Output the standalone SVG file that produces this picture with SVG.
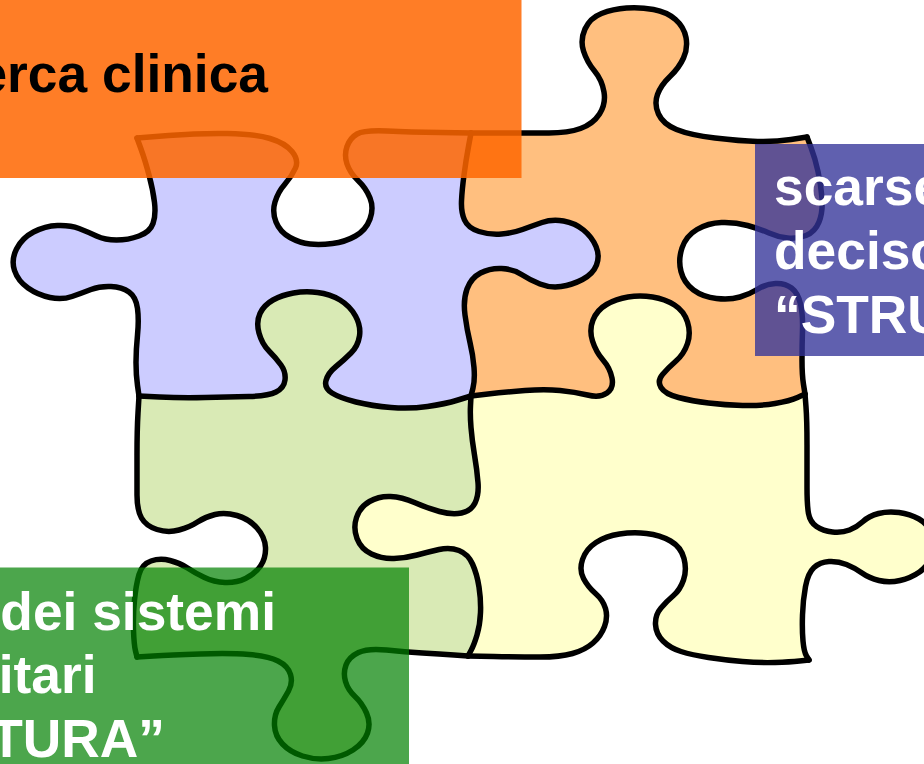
<svg xmlns="http://www.w3.org/2000/svg" width="924" height="764" viewBox="0 0 924 764">
<style>
.piece{fill-rule:evenodd;stroke:none}
.edge{fill:none;stroke:#000;stroke-width:5.5;stroke-linejoin:round;stroke-linecap:round}
.t{font-family:"Liberation Sans",Arial,sans-serif;font-weight:bold;font-size:53.33px}
</style>
<rect width="924" height="764" fill="#fff"/>
<g id="piece-purple">
<path class="piece" fill="#CCCCFF" d="M137,138 L471,133 L471,396 L139,396 Z
M137,138 L168.5,135.5 Q200,133 227.5,133.5 Q255,134 270,138.5 Q285,143 292,151.5 Q299,160 295.5,168 Q292,176 285,184 Q278,192 275,202 Q272,212 276,222 Q280,232 290,237.5 Q300,243 310,244 Q320,245 332.5,243.5 Q345,242 355.5,236 Q366,230 370,219 Q374,208 370,198 Q366,188 358,180.5 Q350,173 347,164 Q344,155 347,146.5 Q350,138 357,134 Q364,130 387,131 Q410,132 440.5,132.5 L471,133
M471,133 L468.5,146.5 Q466,160 464,175 Q462,190 461.5,201 Q461,212 464.5,220 Q468,228 479,231.5 Q490,235 501.5,234 Q513,233 522.5,229.5 Q532,226 542,222.5 Q552,219 563.5,221 Q575,223 583.5,230 Q592,237 596,246.5 Q600,256 596.5,265 Q593,274 582.5,279.5 Q572,285 561,286.5 Q550,288 540,284 Q530,280 521.5,274.5 Q513,269 501.5,268.5 Q490,268 480.5,273 Q471,278 467,289 Q463,300 465,315 Q467,330 470,342.5 Q473,355 474,367.5 Q475,380 473,388 L471,396
M139,396 L159.5,397 Q180,398 205,397.5 Q230,397 249,396.5 Q268,396 276,392 Q284,388 285,380 Q286,372 281,365 Q276,358 269,351 Q262,344 259,333 Q256,322 260,313.5 Q264,305 273,300 Q282,295 293.5,293 Q305,291 317.5,292.5 Q330,294 340,300 Q350,306 355.5,316 Q361,326 359.5,336 Q358,346 351,353 Q344,360 336,366.5 Q328,373 326,380.5 Q324,388 332,393 Q340,398 356,402 Q372,406 391,407.5 Q410,409 427.5,406.5 Q445,404 458,400 L471,396
M137,138 L141,149 Q145,160 149,175 Q153,190 154.5,202.5 Q156,215 153,223.5 Q150,232 139,236 Q128,240 116.5,240 Q105,240 96.5,236 Q88,232 79,228.5 Q70,225 57.5,225.5 Q45,226 33.5,232 Q22,238 16.5,249 Q11,260 14.5,270.5 Q18,281 28,288 Q38,295 50,297.5 Q62,300 72,296.5 Q82,293 91,289.5 Q100,286 111,286.5 Q122,287 129,292 Q136,297 137.5,308.5 Q139,320 137.5,335 Q136,350 136,362.5 Q136,375 137.5,385.5 L139,396"/>
</g>
<g id="piece-orange">
<path class="piece" fill="#FFBF7F" d="M471,133 L807,137 L805,394 L471,396 Z
M471,133 L500.5,133 Q530,133 549,133 Q568,133 580.5,128.5 Q593,124 599.5,114 Q606,104 604,92 Q602,80 594.5,71 Q587,62 583.5,51 Q580,40 585,29 Q590,18 601.5,13.5 Q613,9 626.5,8 Q640,7 653.5,9.5 Q667,12 675.5,19.5 Q684,27 686,37.5 Q688,48 683.5,58 Q679,68 670,76.5 Q661,85 657.5,94.5 Q654,104 658.5,114 Q663,124 676.5,129.5 Q690,135 715,138 Q740,141 757.5,141.5 Q775,142 791,139.5 L807,137
M807,137 L811,147.5 Q815,158 818,171.5 Q821,185 822,198.5 Q823,212 819,222 Q815,232 806,235.5 Q797,239 787.5,238 Q778,237 769,233 Q760,229 747.5,225.5 Q735,222 721.5,222.5 Q708,223 697,229.5 Q686,236 682,248 Q678,260 681,271.5 Q684,283 693.5,290 Q703,297 716.5,298.5 Q730,300 740,297 Q750,294 758,289 Q766,284 775.5,283.5 Q785,283 791.5,288 Q798,293 800.5,304 Q803,315 802.5,330 Q802,345 802,360 Q802,375 803.5,384.5 L805,394
M471,396 L488,394 Q505,392 525,390.5 Q545,389 560,390.5 Q575,392 587.5,395 Q600,398 607,393 Q614,388 612,378 Q610,368 603,360 Q596,352 592.5,341 Q589,330 593,320 Q597,310 606.5,304.5 Q616,299 628,297 Q640,295 652.5,297 Q665,299 674.5,305 Q684,311 687.5,322 Q691,333 687.5,343.5 Q684,354 676,361 Q668,368 662.5,374.5 Q657,381 661,387.5 Q665,394 678.5,397.5 Q692,401 708.5,403 Q725,405 742.5,405.5 Q760,406 775,403.5 Q790,401 797.5,397.5 L805,394
M471,133 L468.5,146.5 Q466,160 464,175 Q462,190 461.5,201 Q461,212 464.5,220 Q468,228 479,231.5 Q490,235 501.5,234 Q513,233 522.5,229.5 Q532,226 542,222.5 Q552,219 563.5,221 Q575,223 583.5,230 Q592,237 596,246.5 Q600,256 596.5,265 Q593,274 582.5,279.5 Q572,285 561,286.5 Q550,288 540,284 Q530,280 521.5,274.5 Q513,269 501.5,268.5 Q490,268 480.5,273 Q471,278 467,289 Q463,300 465,315 Q467,330 470,342.5 Q473,355 474,367.5 Q475,380 473,388 L471,396"/>
</g>
<g id="piece-green">
<path class="piece" fill="#D9EAB5" d="M139,396 L471,396 L468,656 L137,657 Z
M139,396 L159.5,397 Q180,398 205,397.5 Q230,397 249,396.5 Q268,396 276,392 Q284,388 285,380 Q286,372 281,365 Q276,358 269,351 Q262,344 259,333 Q256,322 260,313.5 Q264,305 273,300 Q282,295 293.5,293 Q305,291 317.5,292.5 Q330,294 340,300 Q350,306 355.5,316 Q361,326 359.5,336 Q358,346 351,353 Q344,360 336,366.5 Q328,373 326,380.5 Q324,388 332,393 Q340,398 356,402 Q372,406 391,407.5 Q410,409 427.5,406.5 Q445,404 458,400 L471,396
M471,396 L470.5,405.5 Q470,415 471,427.5 Q472,440 474.5,455 Q477,470 478,482.5 Q479,495 475,503 Q471,511 461.5,513 Q452,515 439.5,511.5 Q427,508 414.5,502.5 Q402,497 390.5,496.5 Q379,496 369.5,501.5 Q360,507 356.5,517.5 Q353,528 357,538.5 Q361,549 371.5,554 Q382,559 394,558.5 Q406,558 417,555 Q428,552 439,549.5 Q450,547 459,550.5 Q468,554 472.5,564 Q477,574 479,587 Q481,600 480.5,612.5 Q480,625 477,635 Q474,645 471,650.5 L468,656
M137,657 L153.5,656 Q170,655 200,654 Q230,653 249,654.5 Q268,656 278,661 Q288,666 290.5,674.5 Q293,683 288.5,691 Q284,699 279,707 Q274,715 274.5,725.5 Q275,736 282.5,744 Q290,752 302.5,756 Q315,760 328.5,758.5 Q342,757 353,750 Q364,743 367.5,733 Q371,723 366.5,713 Q362,703 355,696.5 Q348,690 345.5,681.5 Q343,673 346,665 Q349,657 358.5,652.5 Q368,648 386.5,650 Q405,652 422.5,653 Q440,654 454,655 L468,656
M139,396 L138,413 Q137,430 137,455 Q137,480 137,495 Q137,510 141.5,518 Q146,526 157,529.5 Q168,533 179,530 Q190,527 197.5,522 Q205,517 215,514.5 Q225,512 237,515.5 Q249,519 257,528 Q265,537 265.5,547.5 Q266,558 260.5,566 Q255,574 245.5,578.5 Q236,583 225,582.5 Q214,582 204.5,577.5 Q195,573 187.5,568 Q180,563 170,560.5 Q160,558 151,561 Q142,564 139,574.5 Q136,585 134.5,600 Q133,615 133.5,630 Q134,645 135.5,651 L137,657"/>
</g>
<g id="piece-yellow">
<path class="piece" fill="#FFFFCC" d="M471,396 L805,394 L809,660 L468,656 Z
M471,396 L488,394 Q505,392 525,390.5 Q545,389 560,390.5 Q575,392 587.5,395 Q600,398 607,393 Q614,388 612,378 Q610,368 603,360 Q596,352 592.5,341 Q589,330 593,320 Q597,310 606.5,304.5 Q616,299 628,297 Q640,295 652.5,297 Q665,299 674.5,305 Q684,311 687.5,322 Q691,333 687.5,343.5 Q684,354 676,361 Q668,368 662.5,374.5 Q657,381 661,387.5 Q665,394 678.5,397.5 Q692,401 708.5,403 Q725,405 742.5,405.5 Q760,406 775,403.5 Q790,401 797.5,397.5 L805,394
M805,394 L806,407 Q807,420 807,445 Q807,470 807,487.5 Q807,505 808.5,513.5 Q810,522 816.5,526.5 Q823,531 832.5,532 Q842,533 849.5,530 Q857,527 863,521.5 Q869,516 878.5,513.5 Q888,511 899,512.5 Q910,514 919,519 Q928,524 932,534.5 Q936,545 932,555.5 Q928,566 919.5,572 Q911,578 900,580.5 Q889,583 879,580.5 Q869,578 862,573 Q855,568 846.5,564.5 Q838,561 829,561.5 Q820,562 814,567.5 Q808,573 805.5,586.5 Q803,600 802.5,615 Q802,630 803,641 Q804,652 806.5,656 L809,660
M468,656 L494,656.5 Q520,657 540,657 Q560,657 572.5,653.5 Q585,650 593,643 Q601,636 604.5,626.5 Q608,617 605.5,608.5 Q603,600 595.5,593.5 Q588,587 583.5,578.5 Q579,570 582.5,559.5 Q586,549 596,542.5 Q606,536 619.5,534 Q633,532 646.5,533.5 Q660,535 670.5,541 Q681,547 684,558.5 Q687,570 683.5,580 Q680,590 673.5,595.5 Q667,601 661,608 Q655,615 655.5,624.5 Q656,634 663,641 Q670,648 681,651.5 Q692,655 708.5,657.5 Q725,660 742.5,661.5 Q760,663 775,662.5 Q790,662 799.5,661 L809,660
M471,396 L470.5,405.5 Q470,415 471,427.5 Q472,440 474.5,455 Q477,470 478,482.5 Q479,495 475,503 Q471,511 461.5,513 Q452,515 439.5,511.5 Q427,508 414.5,502.5 Q402,497 390.5,496.5 Q379,496 369.5,501.5 Q360,507 356.5,517.5 Q353,528 357,538.5 Q361,549 371.5,554 Q382,559 394,558.5 Q406,558 417,555 Q428,552 439,549.5 Q450,547 459,550.5 Q468,554 472.5,564 Q477,574 479,587 Q481,600 480.5,612.5 Q480,625 477,635 Q474,645 471,650.5 L468,656"/>
</g>
<g id="piece-outlines">
<path class="edge" d="M137,138 L168.5,135.5 Q200,133 227.5,133.5 Q255,134 270,138.5 Q285,143 292,151.5 Q299,160 295.5,168 Q292,176 285,184 Q278,192 275,202 Q272,212 276,222 Q280,232 290,237.5 Q300,243 310,244 Q320,245 332.5,243.5 Q345,242 355.5,236 Q366,230 370,219 Q374,208 370,198 Q366,188 358,180.5 Q350,173 347,164 Q344,155 347,146.5 Q350,138 357,134 Q364,130 387,131 Q410,132 440.5,132.5 L471,133"/>
<path class="edge" d="M471,133 L500.5,133 Q530,133 549,133 Q568,133 580.5,128.5 Q593,124 599.5,114 Q606,104 604,92 Q602,80 594.5,71 Q587,62 583.5,51 Q580,40 585,29 Q590,18 601.5,13.5 Q613,9 626.5,8 Q640,7 653.5,9.5 Q667,12 675.5,19.5 Q684,27 686,37.5 Q688,48 683.5,58 Q679,68 670,76.5 Q661,85 657.5,94.5 Q654,104 658.5,114 Q663,124 676.5,129.5 Q690,135 715,138 Q740,141 757.5,141.5 Q775,142 791,139.5 L807,137"/>
<path class="edge" d="M807,137 L811,147.5 Q815,158 818,171.5 Q821,185 822,198.5 Q823,212 819,222 Q815,232 806,235.5 Q797,239 787.5,238 Q778,237 769,233 Q760,229 747.5,225.5 Q735,222 721.5,222.5 Q708,223 697,229.5 Q686,236 682,248 Q678,260 681,271.5 Q684,283 693.5,290 Q703,297 716.5,298.5 Q730,300 740,297 Q750,294 758,289 Q766,284 775.5,283.5 Q785,283 791.5,288 Q798,293 800.5,304 Q803,315 802.5,330 Q802,345 802,360 Q802,375 803.5,384.5 L805,394"/>
<path class="edge" d="M471,396 L488,394 Q505,392 525,390.5 Q545,389 560,390.5 Q575,392 587.5,395 Q600,398 607,393 Q614,388 612,378 Q610,368 603,360 Q596,352 592.5,341 Q589,330 593,320 Q597,310 606.5,304.5 Q616,299 628,297 Q640,295 652.5,297 Q665,299 674.5,305 Q684,311 687.5,322 Q691,333 687.5,343.5 Q684,354 676,361 Q668,368 662.5,374.5 Q657,381 661,387.5 Q665,394 678.5,397.5 Q692,401 708.5,403 Q725,405 742.5,405.5 Q760,406 775,403.5 Q790,401 797.5,397.5 L805,394"/>
<path class="edge" d="M471,133 L468.5,146.5 Q466,160 464,175 Q462,190 461.5,201 Q461,212 464.5,220 Q468,228 479,231.5 Q490,235 501.5,234 Q513,233 522.5,229.5 Q532,226 542,222.5 Q552,219 563.5,221 Q575,223 583.5,230 Q592,237 596,246.5 Q600,256 596.5,265 Q593,274 582.5,279.5 Q572,285 561,286.5 Q550,288 540,284 Q530,280 521.5,274.5 Q513,269 501.5,268.5 Q490,268 480.5,273 Q471,278 467,289 Q463,300 465,315 Q467,330 470,342.5 Q473,355 474,367.5 Q475,380 473,388 L471,396"/>
<path class="edge" d="M471,396 L470.5,405.5 Q470,415 471,427.5 Q472,440 474.5,455 Q477,470 478,482.5 Q479,495 475,503 Q471,511 461.5,513 Q452,515 439.5,511.5 Q427,508 414.5,502.5 Q402,497 390.5,496.5 Q379,496 369.5,501.5 Q360,507 356.5,517.5 Q353,528 357,538.5 Q361,549 371.5,554 Q382,559 394,558.5 Q406,558 417,555 Q428,552 439,549.5 Q450,547 459,550.5 Q468,554 472.5,564 Q477,574 479,587 Q481,600 480.5,612.5 Q480,625 477,635 Q474,645 471,650.5 L468,656"/>
<path class="edge" d="M137,138 L141,149 Q145,160 149,175 Q153,190 154.5,202.5 Q156,215 153,223.5 Q150,232 139,236 Q128,240 116.5,240 Q105,240 96.5,236 Q88,232 79,228.5 Q70,225 57.5,225.5 Q45,226 33.5,232 Q22,238 16.5,249 Q11,260 14.5,270.5 Q18,281 28,288 Q38,295 50,297.5 Q62,300 72,296.5 Q82,293 91,289.5 Q100,286 111,286.5 Q122,287 129,292 Q136,297 137.5,308.5 Q139,320 137.5,335 Q136,350 136,362.5 Q136,375 137.5,385.5 L139,396"/>
<path class="edge" d="M139,396 L159.5,397 Q180,398 205,397.5 Q230,397 249,396.5 Q268,396 276,392 Q284,388 285,380 Q286,372 281,365 Q276,358 269,351 Q262,344 259,333 Q256,322 260,313.5 Q264,305 273,300 Q282,295 293.5,293 Q305,291 317.5,292.5 Q330,294 340,300 Q350,306 355.5,316 Q361,326 359.5,336 Q358,346 351,353 Q344,360 336,366.5 Q328,373 326,380.5 Q324,388 332,393 Q340,398 356,402 Q372,406 391,407.5 Q410,409 427.5,406.5 Q445,404 458,400 L471,396"/>
<path class="edge" d="M139,396 L138,413 Q137,430 137,455 Q137,480 137,495 Q137,510 141.5,518 Q146,526 157,529.5 Q168,533 179,530 Q190,527 197.5,522 Q205,517 215,514.5 Q225,512 237,515.5 Q249,519 257,528 Q265,537 265.5,547.5 Q266,558 260.5,566 Q255,574 245.5,578.5 Q236,583 225,582.5 Q214,582 204.5,577.5 Q195,573 187.5,568 Q180,563 170,560.5 Q160,558 151,561 Q142,564 139,574.5 Q136,585 134.5,600 Q133,615 133.5,630 Q134,645 135.5,651 L137,657"/>
<path class="edge" d="M137,657 L153.5,656 Q170,655 200,654 Q230,653 249,654.5 Q268,656 278,661 Q288,666 290.5,674.5 Q293,683 288.5,691 Q284,699 279,707 Q274,715 274.5,725.5 Q275,736 282.5,744 Q290,752 302.5,756 Q315,760 328.5,758.5 Q342,757 353,750 Q364,743 367.5,733 Q371,723 366.5,713 Q362,703 355,696.5 Q348,690 345.5,681.5 Q343,673 346,665 Q349,657 358.5,652.5 Q368,648 386.5,650 Q405,652 422.5,653 Q440,654 454,655 L468,656"/>
<path class="edge" d="M468,656 L494,656.5 Q520,657 540,657 Q560,657 572.5,653.5 Q585,650 593,643 Q601,636 604.5,626.5 Q608,617 605.5,608.5 Q603,600 595.5,593.5 Q588,587 583.5,578.5 Q579,570 582.5,559.5 Q586,549 596,542.5 Q606,536 619.5,534 Q633,532 646.5,533.5 Q660,535 670.5,541 Q681,547 684,558.5 Q687,570 683.5,580 Q680,590 673.5,595.5 Q667,601 661,608 Q655,615 655.5,624.5 Q656,634 663,641 Q670,648 681,651.5 Q692,655 708.5,657.5 Q725,660 742.5,661.5 Q760,663 775,662.5 Q790,662 799.5,661 L809,660"/>
<path class="edge" d="M805,394 L806,407 Q807,420 807,445 Q807,470 807,487.5 Q807,505 808.5,513.5 Q810,522 816.5,526.5 Q823,531 832.5,532 Q842,533 849.5,530 Q857,527 863,521.5 Q869,516 878.5,513.5 Q888,511 899,512.5 Q910,514 919,519 Q928,524 932,534.5 Q936,545 932,555.5 Q928,566 919.5,572 Q911,578 900,580.5 Q889,583 879,580.5 Q869,578 862,573 Q855,568 846.5,564.5 Q838,561 829,561.5 Q820,562 814,567.5 Q808,573 805.5,586.5 Q803,600 802.5,615 Q802,630 803,641 Q804,652 806.5,656 L809,660"/>
</g>
<g id="box-orange">
<rect x="-10" y="-10" width="531.5" height="188" fill="#FF6600" fill-opacity="0.85"/>
<text class="t" x="268" y="92" text-anchor="end" fill="#000">erca clinica</text>
</g>
<g id="box-blue">
<rect x="755" y="144" width="180" height="212" fill="#333399" fill-opacity="0.78"/>
<text class="t" fill="#fff"><tspan x="774" y="205">scarse</tspan><tspan x="774" y="269">deciso</tspan><tspan x="774" y="333">“STRU</tspan></text>
</g>
<g id="box-green">
<rect x="-10" y="567.5" width="419" height="210" fill="#008000" fill-opacity="0.7"/>
<text class="t" fill="#fff" text-anchor="end"><tspan x="276" y="630">dei sistemi</tspan><tspan x="96.5" y="693">itari</tspan><tspan x="165" y="757">TURA”</tspan></text>
</g>
</svg>
